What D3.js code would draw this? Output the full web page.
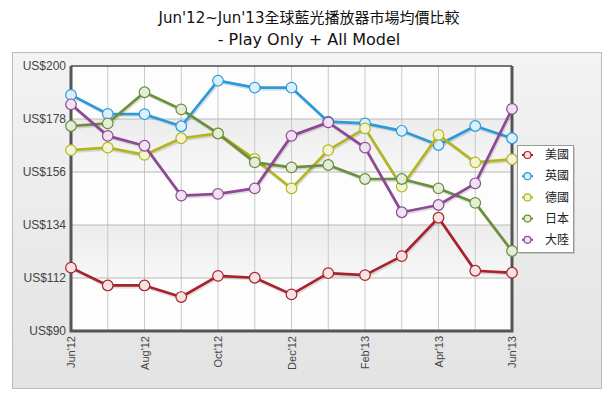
<!DOCTYPE html>
<html>
<head>
<meta charset="utf-8">
<script src="https://cdn.jsdelivr.net/npm/d3@7"></script>
<style>
  body { margin: 0; background: #fff; }
  svg { display: block; }
</style>
</head>
<body>
<svg id="chart" width="614" height="396"></svg>
<script>
const months = ["Jun'12", "Jul'12", "Aug'12", "Sep'12", "Oct'12", "Nov'12", "Dec'12",
                "Jan'13", "Feb'13", "Mar'13", "Apr'13", "May'13", "Jun'13"];
const tickMonths = ["Jun'12", "Aug'12", "Oct'12", "Dec'12", "Feb'13", "Apr'13", "Jun'13"];
const yTicks = [90, 112, 134, 156, 178, 200];

const seriesNames = ["美國", "英國", "德國", "日本", "大陸"];
const usa = [116.3, 108.9, 108.9, 104.1, 112.9, 112.1, 105.2, 114.0, 113.2, 121.1, 137.0, 115.0, 114.2];
const uk = [188.0, 180.1, 180.0, 175.0, 193.9, 191.0, 191.0, 176.9, 176.2, 173.1, 167.2, 175.1, 170.0];
const germany = [165.1, 166.1, 163.1, 170.0, 172.0, 161.4, 149.2, 165.1, 174.1, 149.9, 171.4, 160.0, 161.3];
const japan = [175.1, 176.2, 189.1, 182.0, 172.0, 160.0, 157.9, 158.9, 153.1, 153.1, 149.2, 143.2, 123.2];
const china = [184.1, 171.0, 166.9, 146.2, 146.9, 149.2, 171.0, 176.6, 166.1, 139.3, 142.3, 151.3, 182.2];

const colors = ["#a8222b", "#2b9ad8", "#b3b620", "#6b8f3b", "#8d4993"];
const fills = ["#f7e2e3", "#dcf0fb", "#f3f4d6", "#e4ecda", "#f0e2f2"];
const series = [usa, uk, germany, japan, china];

const svg = d3.select("#chart");
const defs = svg.append("defs");

// panel background
const pg = defs.append("linearGradient").attr("id", "panelGrad").attr("x1", 0).attr("y1", 0).attr("x2", 0).attr("y2", 1);
pg.append("stop").attr("offset", "0%").attr("stop-color", "#f3f3f3");
pg.append("stop").attr("offset", "100%").attr("stop-color", "#e3e3e3");
svg.append("rect").attr("x", 12.5).attr("y", 52.5).attr("width", 589).attr("height", 336)
  .attr("fill", "url(#panelGrad)").attr("stroke", "#bcbcbc");

// title
svg.append("text").attr("x", 309).attr("y", 23).attr("text-anchor", "middle")
  .attr("font-family", "DejaVu Sans, Noto Sans CJK TC, sans-serif").attr("font-size", 15).attr("fill", "#111")
  .text("Jun'12~Jun'13全球藍光播放器市場均價比較");
svg.append("text").attr("x", 309).attr("y", 45).attr("text-anchor", "middle")
  .attr("font-family", "DejaVu Sans, sans-serif").attr("font-size", 16).attr("fill", "#111")
  .text("- Play Only + All Model");

const plot = {left: 71, right: 512, top: 66, bottom: 331};
const x = d3.scalePoint().domain(months).range([plot.left, plot.right]);
const y = d3.scaleLinear().domain([90, 200]).range([plot.bottom, plot.top]);

// plot background + bands
svg.append("rect").attr("x", plot.left).attr("y", plot.top)
  .attr("width", plot.right - plot.left).attr("height", plot.bottom - plot.top).attr("fill", "#fdfdfd");
const bg = defs.append("linearGradient").attr("id", "bandGrad").attr("x1", 0).attr("y1", 0).attr("x2", 0).attr("y2", 1);
bg.append("stop").attr("offset", "0%").attr("stop-color", "#ececec");
bg.append("stop").attr("offset", "100%").attr("stop-color", "#f7f7f7");
[[156, 178], [112, 134]].forEach(([a, b]) => {
  svg.append("rect").attr("x", plot.left).attr("y", y(b))
    .attr("width", plot.right - plot.left).attr("height", y(a) - y(b)).attr("fill", "url(#bandGrad)");
});

// grid
svg.append("g").selectAll("line").data(months).join("line")
  .attr("x1", d => x(d)).attr("x2", d => x(d)).attr("y1", plot.top).attr("y2", plot.bottom)
  .attr("stroke", "#c8c8c8").attr("stroke-width", 1);
svg.append("g").selectAll("line").data(yTicks).join("line")
  .attr("x1", plot.left).attr("x2", plot.right).attr("y1", d => y(d)).attr("y2", d => y(d))
  .attr("stroke", "#b8b8b8").attr("stroke-width", 1);

// axes labels
const yAxis = svg.append("g").attr("transform", `translate(${plot.left},0)`)
  .call(d3.axisLeft(y).tickValues(yTicks).tickSize(0).tickPadding(5).tickFormat(d => "US$" + d));
yAxis.select(".domain").remove();
yAxis.selectAll("text").attr("font-family", "Liberation Sans, Arial, sans-serif").attr("font-size", 12).attr("fill", "#444");

const xAxis = svg.append("g").attr("transform", `translate(0,${plot.bottom})`)
  .call(d3.axisBottom(x).tickValues(tickMonths).tickSize(0).tickPadding(5));
xAxis.select(".domain").remove();
xAxis.selectAll("text").attr("font-family", "Liberation Sans, Arial, sans-serif").attr("font-size", 11).attr("fill", "#444")
  .attr("transform", "rotate(-90)").attr("text-anchor", "end").attr("dx", "-5").attr("dy", "0.32em").attr("y", 0);

// frame
svg.append("path")
  .attr("d", `M${plot.left},${plot.top}V${plot.bottom}H${plot.right}V${plot.top}`)
  .attr("fill", "none").attr("stroke", "#555").attr("stroke-width", 3);
svg.append("line").attr("x1", plot.left).attr("x2", plot.right).attr("y1", plot.top).attr("y2", plot.top)
  .attr("stroke", "#555").attr("stroke-width", 1.5);

// series
const line = d3.line().x((d, i) => x(months[i])).y(d => y(d));
series.forEach((s, k) => {
  const g = svg.append("g");
  g.append("path").datum(s).attr("d", line).attr("fill", "none")
    .attr("stroke", "rgba(0,0,0,0.12)").attr("stroke-width", 3).attr("transform", "translate(1,1.5)");
  g.append("path").datum(s).attr("d", line).attr("fill", "none")
    .attr("stroke", colors[k]).attr("stroke-width", 2.7).attr("stroke-linejoin", "round");
  g.selectAll("circle").data(s).join("circle")
    .attr("cx", (d, i) => x(months[i])).attr("cy", d => y(d)).attr("r", 5.3)
    .attr("fill", fills[k]).attr("stroke", colors[k]).attr("stroke-width", 1.2);
});

// legend
const lg = svg.append("g").attr("transform", "translate(517,145)");
lg.append("rect").attr("x", 2).attr("y", 2).attr("width", 56).attr("height", 107).attr("fill", "rgba(0,0,0,0.15)");
lg.append("rect").attr("x", 0.5).attr("y", 0.5).attr("width", 56).attr("height", 107).attr("fill", "#fff").attr("stroke", "#999");
seriesNames.forEach((n, k) => {
  const ty = 10 + k * 21.2;
  lg.append("line").attr("x1", 5).attr("x2", 16).attr("y1", ty).attr("y2", ty)
    .attr("stroke", colors[k]).attr("stroke-width", 2);
  lg.append("circle").attr("cx", 10.5).attr("cy", ty).attr("r", 3.5)
    .attr("fill", fills[k]).attr("stroke", colors[k]).attr("stroke-width", 1.2);
  lg.append("text").attr("x", 28).attr("y", ty).attr("dy", "0.35em")
    .attr("font-family", "Noto Sans CJK TC, sans-serif").attr("font-size", 12).attr("fill", "#222")
    .text(n);
});
</script>
</body>
</html>
